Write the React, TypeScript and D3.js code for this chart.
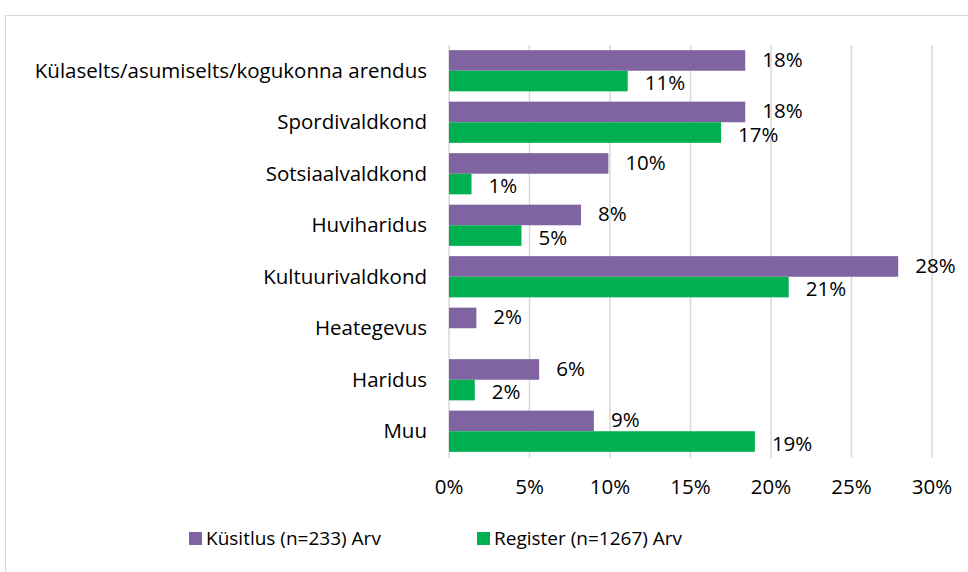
import * as d3 from "d3";

const categories = [
  "Külaselts/asumiselts/kogukonna arendus",
  "Spordivaldkond",
  "Sotsiaalvaldkond",
  "Huviharidus",
  "Kultuurivaldkond",
  "Heategevus",
  "Haridus",
  "Muu",
];
const kusitlus = [18.4, 18.4, 9.9, 8.2, 27.9, 1.7, 5.6, 9.0];
const register = [11.1, 16.9, 1.4, 4.5, 21.1, null, 1.6, 19.0];
const seriesNames = ["Küsitlus (n=233) Arv", "Register (n=1267) Arv"];
const colors = ["#8064A2", "#00B050"];
const xTicks = [0, 5, 10, 15, 20, 25, 30];

const W = 968;
const H = 572;
const font = "'Open Sans', sans-serif";
const fs = 20.5;

export default function App() {
  const margin = { top: 45, right: 36, bottom: 115, left: 449 };
  const x = d3.scaleLinear().domain([0, 30]).range([margin.left, W - margin.right]);
  const y = d3
    .scaleBand()
    .domain(categories)
    .range([margin.top, H - margin.bottom])
    .paddingInner(0.2)
    .paddingOuter(0.1);
  const sub = d3.scaleBand().domain(["0", "1"]).range([0, y.bandwidth()]);

  const rows = categories.map((c, i) => ({ c, vals: [kusitlus[i], register[i]] }));

  return (
    <svg
      width={W}
      height={H}
      style={{ position: "absolute", left: 0, top: 0, background: "#fff" }}
      fontFamily={font}
    >
      <rect x={5.5} y={15.5} width={W} height={H} fill="none" stroke="#d9d9d9" />

      {xTicks.map((t) => (
        <g key={t}>
          <line
            x1={x(t)}
            x2={x(t)}
            y1={margin.top}
            y2={H - margin.bottom + 1}
            stroke="#d9d9d9"
            strokeWidth={1.5}
          />
          <text x={x(t)} y={487} dy="0.35em" textAnchor="middle" fontSize={fs} fill="#000">
            {t}%
          </text>
        </g>
      ))}

      {rows.map((r) => (
        <g key={r.c}>
          <text
            x={427}
            y={(y(r.c) ?? 0) + y.bandwidth() / 2}
            dy="0.35em"
            textAnchor="end"
            fontSize={fs}
            fill="#000"
          >
            {r.c}
          </text>
          {r.vals.map((v, j) =>
            v == null ? null : (
              <g key={j}>
                <rect
                  x={x(0)}
                  y={(y(r.c) ?? 0) + (sub(String(j)) ?? 0)}
                  width={x(v) - x(0)}
                  height={sub.bandwidth()}
                  fill={colors[j]}
                />
                <text
                  x={x(v) + 17}
                  y={(y(r.c) ?? 0) + (sub(String(j)) ?? 0) + sub.bandwidth() / 2 + (j === 0 ? -1 : 2)}
                  dy="0.35em"
                  fontSize={fs}
                  fill="#000"
                >
                  {d3.format(".0f")(v)}%
                </text>
              </g>
            )
          )}
        </g>
      ))}

      {seriesNames.map((s, i) => {
        const lx = [189, 477][i];
        return (
          <g key={s}>
            <rect x={lx} y={532} width={13} height={13} fill={colors[i]} />
            <text x={lx + 17} y={538.5} dy="0.35em" fontSize={19} fill="#000">
              {s}
            </text>
          </g>
        );
      })}
    </svg>
  );
}
